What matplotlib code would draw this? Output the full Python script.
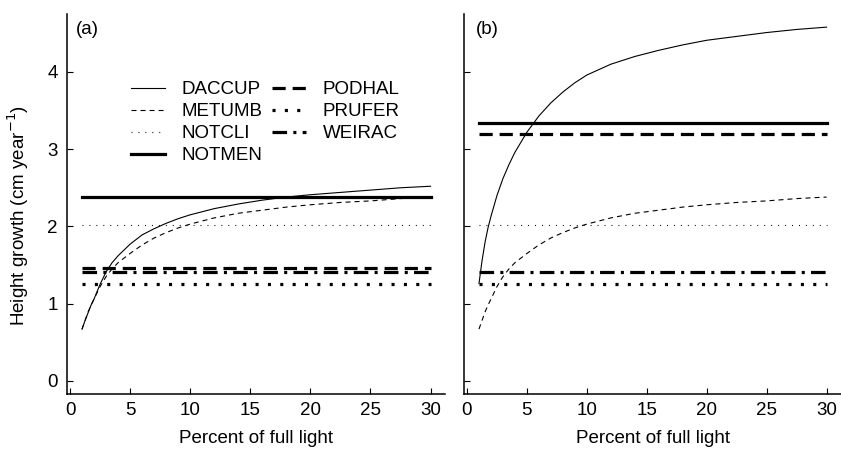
import numpy as np
import matplotlib.pyplot as plt

plt.rcParams['font.family'] = ['Liberation Sans', 'DejaVu Sans']
plt.rcParams['lines.scale_dashes'] = False

# light levels (percent of full light) used for the curves
light = [1, 1.25, 1.5, 1.75, 2, 2.5, 3, 3.5, 4, 5, 6, 7, 8, 9, 10, 12, 14, 16, 18, 20, 22.5, 25, 27.5, 30]
light_flat = [1, 30]

# panel (a)
daccup_a = [0.67, 0.78, 0.88, 0.98, 1.06, 1.25, 1.41, 1.53, 1.62, 1.77, 1.89, 1.97, 2.04, 2.10,
            2.15, 2.23, 2.29, 2.34, 2.38, 2.41, 2.44, 2.47, 2.50, 2.52]
metumb = [0.67, 0.78, 0.89, 0.98, 1.06, 1.22, 1.35, 1.45, 1.53, 1.65, 1.76, 1.85, 1.92, 1.98,
          2.03, 2.11, 2.17, 2.21, 2.25, 2.28, 2.31, 2.33, 2.36, 2.38]
notcli = 2.02
notmen_a = 2.38
podhal_a = 1.46
prufer = 1.255
weirac = 1.415

# panel (b)
daccup_b = [1.26, 1.55, 1.79, 1.98, 2.13, 2.40, 2.62, 2.80, 2.96, 3.22, 3.43, 3.60, 3.74, 3.86,
            3.96, 4.10, 4.20, 4.28, 4.35, 4.41, 4.46, 4.51, 4.55, 4.58]
notmen_b = 3.34
podhal_b = 3.19

# line styles (points, unscaled)
thin = 0.8
thick = 2.3
sty = {
    'DACCUP': dict(color='black', lw=thin, ls='-'),
    'METUMB': dict(color='black', lw=thin, ls=(0, (3.6, 2.9))),
    'NOTCLI': dict(color='black', lw=thin, ls=(0, (0.7, 4.3))),
    'NOTMEN': dict(color='black', lw=thick, ls='-'),
    'PODHAL': dict(color='black', lw=thick, ls=(0, (9.5, 5.0)), dash_capstyle='butt'),
    'PRUFER': dict(color='black', lw=thick, ls=(0, (2.2, 6.7)), dash_capstyle='butt'),
    'WEIRAC': dict(color='black', lw=thick, ls=(0, (10.5, 4.5, 2.2, 4.5)), dash_capstyle='butt'),
}

fs = 13.5

fig = plt.figure(figsize=(8.41, 4.53), dpi=100)
ax1 = fig.add_axes([67/841, 1-394/453, 378/841, 380/453])
ax2 = fig.add_axes([464/841, 1-394/453, 377/841, 380/453])

def draw(ax, daccup, notmen, podhal):
    h = {}
    h['DACCUP'], = ax.plot(light, daccup, **sty['DACCUP'])
    h['METUMB'], = ax.plot(light, metumb, **sty['METUMB'])
    h['NOTCLI'], = ax.plot(light_flat, [notcli]*2, **sty['NOTCLI'])
    h['NOTMEN'], = ax.plot(light_flat, [notmen]*2, **sty['NOTMEN'])
    h['PODHAL'], = ax.plot(light_flat, [podhal]*2, **sty['PODHAL'])
    h['PRUFER'], = ax.plot(light_flat, [prufer]*2, **sty['PRUFER'])
    h['WEIRAC'], = ax.plot(light_flat, [weirac]*2, **sty['WEIRAC'])
    ax.set_xlim(-0.25, 31.2)
    ax.set_ylim(-0.17, 4.75)
    ax.set_xticks([0, 5, 10, 15, 20, 25, 30])
    ax.set_yticks([0, 1, 2, 3, 4])
    for s in ['top', 'right']:
        ax.spines[s].set_visible(False)
    for s in ['left', 'bottom']:
        ax.spines[s].set_linewidth(1.1)
    ax.tick_params(direction='in', length=4.5, width=0.8, labelsize=fs)
    ax.tick_params(axis='y', pad=6.5)
    ax.tick_params(axis='x', pad=6)
    ax.set_xlabel('Percent of full light', fontsize=fs, labelpad=8)
    return h

h = draw(ax1, daccup_a, notmen_a, podhal_a)
draw(ax2, daccup_b, notmen_b, podhal_b)
ax2.tick_params(axis='y', labelleft=False)

ax1.set_ylabel('Height growth (cm year$^{-1}$)', fontsize=fs)
ax1.yaxis.set_label_coords(-0.094, 0.47)
ax1.text(0.024, 0.958, '(a)', transform=ax1.transAxes, fontsize=fs, va='center', ha='left')
ax2.text(0.032, 0.958, '(b)', transform=ax2.transAxes, fontsize=fs, va='center', ha='left')

names = ['DACCUP', 'METUMB', 'NOTCLI', 'NOTMEN', 'PODHAL', 'PRUFER', 'WEIRAC']
ax1.legend([h[n] for n in names], names, ncol=2, frameon=False, fontsize=fs,
           loc='upper left', bbox_to_anchor=(0.17, 0.823), borderaxespad=0, borderpad=0,
           handlelength=1.8, handletextpad=0.9, columnspacing=0.5, labelspacing=0.26)

fig.savefig('out.png', dpi=100)
